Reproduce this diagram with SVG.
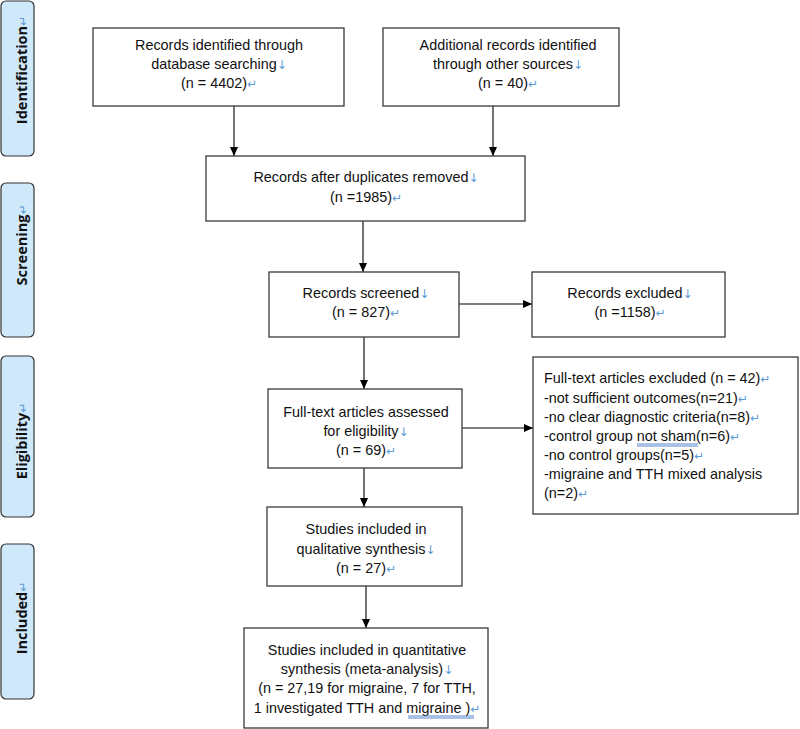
<svg xmlns="http://www.w3.org/2000/svg" width="800" height="729" viewBox="0 0 800 729">
<defs>
<marker id="ah" markerWidth="10" markerHeight="10" refX="9" refY="5" orient="auto" markerUnits="userSpaceOnUse">
<path d="M0,1 L9,5 L0,9 Z" fill="#000"/>
</marker>
<style>
.box{fill:#fff;stroke:#3a3a3a;stroke-width:1.3}
.side{fill:#cfe8fa;stroke:#333;stroke-width:1.2}
.t{font-family:"Liberation Sans",Arial,sans-serif;font-size:14.4px;fill:#111}
.c{text-anchor:middle}
.lab{font-family:"Open Sans","Liberation Sans",sans-serif;font-size:14.5px;font-weight:bold;fill:#111;text-anchor:middle}
.m{fill:#5b9bd5;font-family:"DejaVu Sans",sans-serif;font-size:12px;font-weight:normal}
.conn{stroke:#000;stroke-width:1.1;fill:none;marker-end:url(#ah)}
.ul{stroke:#4472c4;stroke-width:0.9}
</style>
</defs>
<rect width="800" height="729" fill="#fff"/>

<g id="stage-identification">
<rect class="side" x="1" y="1" width="33" height="155" rx="5"/>
<text class="lab" transform="translate(27,70) rotate(-90)">Identification<tspan class="m">↵</tspan></text>
</g>
<g id="stage-screening">
<rect class="side" x="1" y="183" width="33" height="154" rx="5"/>
<text class="lab" transform="translate(27,245) rotate(-90)">Screening<tspan class="m">↵</tspan></text>
</g>
<g id="stage-eligibility">
<rect class="side" x="1" y="356" width="33" height="161" rx="5"/>
<text class="lab" transform="translate(27,441) rotate(-90)">Eligibility<tspan class="m">↵</tspan></text>
</g>
<g id="stage-included">
<rect class="side" x="1" y="544" width="33" height="155" rx="5"/>
<text class="lab" transform="translate(27,618) rotate(-90)">Included<tspan class="m">↵</tspan></text>
</g>

<g id="connectors">
<line class="conn" x1="234" y1="106" x2="234" y2="156"/>
<line class="conn" x1="493" y1="106" x2="493" y2="156"/>
<line class="conn" x1="363" y1="221" x2="363" y2="272"/>
<line class="conn" x1="459" y1="304" x2="532" y2="304"/>
<line class="conn" x1="364" y1="337" x2="364" y2="389"/>
<line class="conn" x1="462" y1="428" x2="533" y2="428"/>
<line class="conn" x1="364" y1="468" x2="364" y2="507"/>
<line class="conn" x1="366" y1="586" x2="366" y2="628"/>
</g>

<g id="node-database">
<rect class="box" x="93" y="28" width="251" height="78"/>
<text class="t c" x="219" y="50">Records identified through</text>
<text class="t c" x="219" y="69">database searching<tspan class="m">↓</tspan></text>
<text class="t c" x="219" y="88">(n = 4402)<tspan class="m">↵</tspan></text>
</g>

<g id="node-other">
<rect class="box" x="383" y="28" width="236" height="78"/>
<text class="t c" x="508" y="50">Additional records identified</text>
<text class="t c" x="508" y="69">through other sources<tspan class="m">↓</tspan></text>
<text class="t c" x="508" y="88">(n = 40)<tspan class="m">↵</tspan></text>
</g>

<g id="node-duplicates">
<rect class="box" x="206" y="156" width="319" height="65"/>
<text class="t c" x="366" y="182">Records after duplicates removed<tspan class="m">↓</tspan></text>
<text class="t c" x="366" y="202">(n =1985)<tspan class="m">↵</tspan></text>
</g>

<g id="node-screened">
<rect class="box" x="269" y="272" width="190" height="65"/>
<text class="t c" x="366" y="298">Records screened<tspan class="m">↓</tspan></text>
<text class="t c" x="366" y="317">(n = 827)<tspan class="m">↵</tspan></text>
</g>

<g id="node-excluded">
<rect class="box" x="532" y="272" width="193" height="65"/>
<text class="t c" x="630" y="298">Records excluded<tspan class="m">↓</tspan></text>
<text class="t c" x="630" y="317">(n =1158)<tspan class="m">↵</tspan></text>
</g>

<g id="node-fulltext">
<rect class="box" x="268" y="389" width="194" height="79"/>
<text class="t c" x="366" y="417">Full-text articles assessed</text>
<text class="t c" x="366" y="436">for eligibility<tspan class="m">↓</tspan></text>
<text class="t c" x="366" y="455">(n = 69)<tspan class="m">↵</tspan></text>
</g>

<g id="node-fulltext-excluded">
<rect class="box" x="533" y="357" width="265" height="157"/>
<text class="t" x="544" y="383">Full-text articles excluded (n = 42)<tspan class="m">↵</tspan></text>
<text class="t" x="544" y="403">-not sufficient outcomes(n=21)<tspan class="m">↵</tspan></text>
<text class="t" x="544" y="422">-no clear diagnostic criteria(n=8)<tspan class="m">↵</tspan></text>
<text class="t" x="544" y="441">-control group not sham(n=6)<tspan class="m">↵</tspan></text>
<text class="t" x="544" y="460">-no control groups(n=5)<tspan class="m">↵</tspan></text>
<text class="t" x="544" y="479">-migraine and TTH mixed analysis</text>
<text class="t" x="544" y="498">(n=2)<tspan class="m">↵</tspan></text>
<line class="ul" x1="637" y1="444" x2="698" y2="444"/>
<line class="ul" x1="637" y1="446" x2="698" y2="446"/>
</g>

<g id="node-qualitative">
<rect class="box" x="267" y="507" width="195" height="79"/>
<text class="t c" x="366" y="534">Studies included in</text>
<text class="t c" x="366" y="554">qualitative synthesis<tspan class="m">↓</tspan></text>
<text class="t c" x="366" y="573">(n = 27)<tspan class="m">↵</tspan></text>
</g>

<g id="node-quantitative">
<rect class="box" x="244" y="628" width="244" height="100"/>
<text class="t c" x="367" y="655">Studies included in quantitative</text>
<text class="t c" x="367" y="674">synthesis (meta-analysis)<tspan class="m">↓</tspan></text>
<text class="t c" x="367" y="693">(n = 27,19 for migraine, 7 for TTH,</text>
<text class="t c" x="367" y="713">1 investigated TTH and migraine )<tspan class="m">↵</tspan></text>
<line class="ul" x1="408" y1="716" x2="474" y2="716"/>
<line class="ul" x1="408" y1="718" x2="474" y2="718"/>
</g>
</svg>
